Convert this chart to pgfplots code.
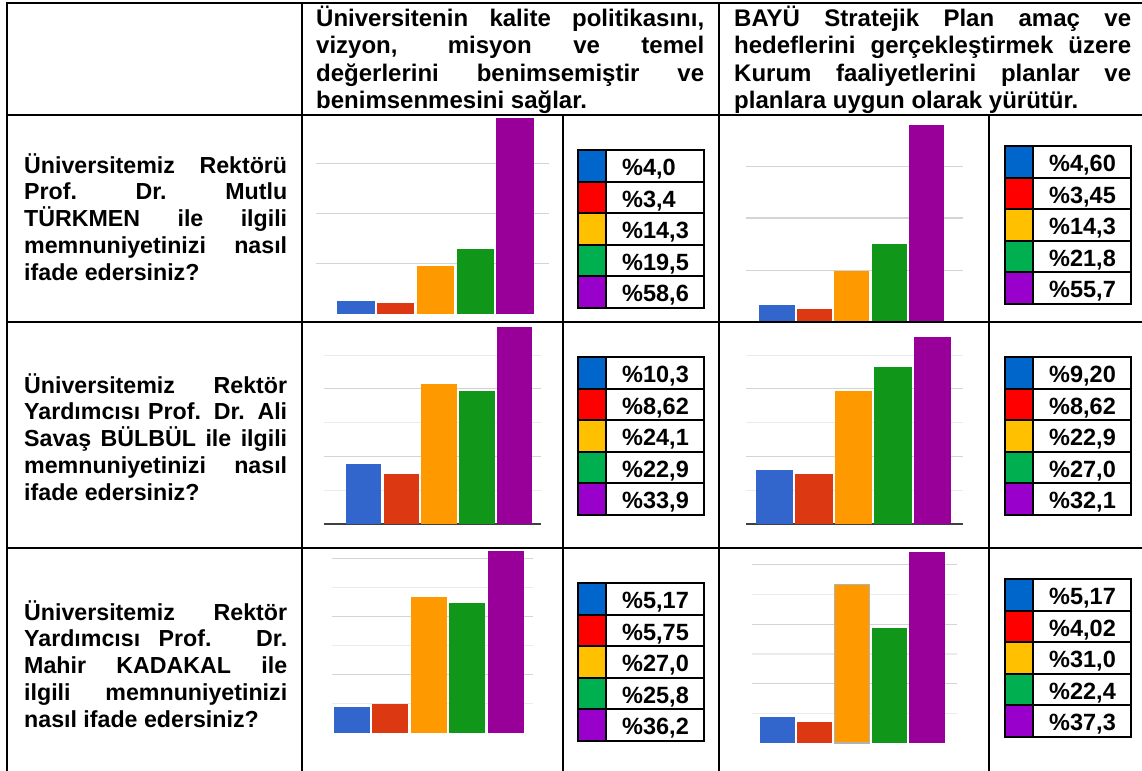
\documentclass[border=0pt]{standalone}
\usepackage{fontspec}
\setmainfont{Liberation Sans}
\usepackage{pgfplots}
\pgfplotsset{compat=1.18}

% bar colours (chart) and key colours (small tables)
\definecolor{gblue}{HTML}{3366CC}
\definecolor{gred}{HTML}{DC3912}
\definecolor{gorange}{HTML}{FF9900}
\definecolor{ggreen}{HTML}{109618}
\definecolor{gpurple}{HTML}{990099}
\definecolor{kblue}{HTML}{0066CC}
\definecolor{kred}{HTML}{FF0000}
\definecolor{kyellow}{HTML}{FFC000}
\definecolor{kgreen}{HTML}{00B050}
\definecolor{kpurple}{HTML}{9900CC}

\pgfplotsset{
  cellchart/.style={
    scale only axis, anchor=south west,
    ybar, bar shift=0pt, bar width=0.94,
    ymin=0, axis line style={draw=none},
    major tick length=0pt, minor tick length=0pt,
    xtick=\empty, yticklabels={}, extra y tick labels={},
    ymajorgrids, yminorgrids,
    major grid style={color=black!17, line width=1.2bp},
    minor grid style={color=black!8, line width=1.2bp},
    clip=false,
  },
  baseline dark/.style={
    extra y ticks={0},
    extra y tick style={grid=major, major grid style={color=black!75, line width=1.6bp}},
  },
}

\newcommand{\hfont}{\fontsize{24bp}{27.5bp}\selectfont\bfseries}
\newcommand{\lfont}{\fontsize{23.2bp}{26.8bp}\selectfont\bfseries}
\newcommand{\kfont}{\fontsize{23.5bp}{27bp}\selectfont\bfseries}

% justified line: x, baseline, width, text
\newcommand{\jline}[4]{\node[anchor=base west,inner sep=0pt] at (#1,#2) {\makebox[#3bp][s]{#4}};}
\newcommand{\lline}[3]{\node[anchor=base west,inner sep=0pt] at (#1,#2) {#3};}

% key table: x, y (top left), five labels
\newcommand{\keybox}[7]{%
  \begin{scope}[shift={(#1bp,-#2bp)},x=1bp,y=-1bp]
    \fill[kblue] (0,0) rectangle (28,31.6);
    \fill[kred] (0,31.6) rectangle (28,63.2);
    \fill[kyellow] (0,63.2) rectangle (28,94.8);
    \fill[kgreen] (0,94.8) rectangle (28,126.4);
    \fill[kpurple] (0,126.4) rectangle (28,158);
    \foreach \r in {31.6,63.2,94.8,126.4} \draw[line width=2bp] (0,\r) -- (126,\r);
    \draw[line width=2bp] (28,0) -- (28,158);
    \draw[line width=2.4bp] (0,0) rectangle (126,158);
    \begin{scope}[every node/.style={font=\kfont}]
      \lline{44}{25.5}{#3}
      \lline{44}{57.1}{#4}
      \lline{44}{88.7}{#5}
      \lline{44}{120.3}{#6}
      \lline{44}{151.9}{#7}
    \end{scope}
  \end{scope}}

\begin{document}
\begin{tikzpicture}
\useasboundingbox (0,0) rectangle (1142bp,-771bp);

% row 1
\begin{axis}[cellchart, at={(316bp,-314bp)}, width=233bp, height=199bp,
  xmin=-1.006, xmax=4.855, ymax=59.4, ytick={15,30,45}, minor ytick={}]
\addplot[fill=gblue,draw=none] coordinates {(0,4.0)};
\addplot[fill=gred,draw=none] coordinates {(1,3.4)};
\addplot[fill=gorange,draw=none] coordinates {(2,14.3)};
\addplot[fill=ggreen,draw=none] coordinates {(3,19.5)};
\addplot[fill=gpurple,draw=none] coordinates {(4,58.6)};
\end{axis}
\begin{axis}[cellchart, at={(746bp,-321bp)}, width=217bp, height=206bp,
  xmin=-0.83, xmax=4.97, ymax=58.4, ytick={14.4,29.2,43.9}, minor ytick={}]
\addplot[fill=gblue,draw=none] coordinates {(0,4.60)};
\addplot[fill=gred,draw=none] coordinates {(1,3.45)};
\addplot[fill=gorange,draw=none] coordinates {(2,14.3)};
\addplot[fill=ggreen,draw=none] coordinates {(3,21.8)};
\addplot[fill=gpurple,draw=none] coordinates {(4,55.7)};
\end{axis}

% row 2
\begin{axis}[cellchart, baseline dark, at={(324bp,-524bp)}, width=217bp, height=198bp,
  xmin=-1.046, xmax=4.70, ymax=34, ytick={11.6,23.2}, minor ytick={5.8,17.4,29}]
\addplot[fill=gblue,draw=none] coordinates {(0,10.3)};
\addplot[fill=gred,draw=none] coordinates {(1,8.62)};
\addplot[fill=gorange,draw=none] coordinates {(2,24.1)};
\addplot[fill=ggreen,draw=none] coordinates {(3,22.9)};
\addplot[fill=gpurple,draw=none] coordinates {(4,33.9)};
\end{axis}
\begin{axis}[cellchart, baseline dark, at={(746bp,-524bp)}, width=217bp, height=198bp,
  xmin=-0.72, xmax=4.77, ymax=34, ytick={11.6,23.2}, minor ytick={5.8,17.4,29}]
\addplot[fill=gblue,draw=none] coordinates {(0,9.20)};
\addplot[fill=gred,draw=none] coordinates {(1,8.62)};
\addplot[fill=gorange,draw=none] coordinates {(2,22.9)};
\addplot[fill=ggreen,draw=none] coordinates {(3,27.0)};
\addplot[fill=gpurple,draw=none] coordinates {(4,32.1)};
\end{axis}

% row 3
\begin{axis}[cellchart, at={(332bp,-733bp)}, width=201bp, height=183bp,
  xmin=-0.52, xmax=4.71, ymax=36.45, ytick={11.6,23.2,34.8}, minor ytick={5.8,17.4,29}]
\addplot[fill=gblue,draw=none] coordinates {(0,5.17)};
\addplot[fill=gred,draw=none] coordinates {(1,5.75)};
\addplot[fill=gorange,draw=none] coordinates {(2,27.0)};
\addplot[fill=ggreen,draw=none] coordinates {(3,25.8)};
\addplot[fill=gpurple,draw=none] coordinates {(4,36.2)};
\end{axis}
\begin{axis}[cellchart, at={(752bp,-743bp)}, width=205bp, height=192bp,
  xmin=-0.67, xmax=4.80, ymax=37.5, ytick={11.6,23.2,34.8}, minor ytick={5.8,17.4,29}]
\addplot[fill=gblue,draw=none] coordinates {(0,5.17)};
\addplot[fill=gred,draw=none] coordinates {(1,4.02)};
\addplot[fill=gorange,draw=black!30,line width=1.5bp] coordinates {(2,31.0)};
\addplot[fill=ggreen,draw=none] coordinates {(3,22.4)};
\addplot[fill=gpurple,draw=none] coordinates {(4,37.3)};
\end{axis}

\begin{scope}[x=1bp,y=-1bp]
  % header texts
  \begin{scope}[every node/.style={font=\hfont}]
    \jline{316}{26}{388}{Üniversitenin kalite politikasını,}
    \jline{316}{53.5}{388}{vizyon, misyon ve temel}
    \jline{316}{81}{388}{değerlerini benimsemiştir ve}
    \lline{316}{108.5}{benimsenmesini sağlar.}
    \jline{734}{26}{397}{BAYÜ Stratejik Plan amaç ve}
    \jline{734}{53.5}{397}{hedeflerini gerçekleştirmek üzere}
    \jline{734}{81}{397}{Kurum faaliyetlerini planlar ve}
    \lline{734}{108.5}{planlara uygun olarak yürütür.}
  \end{scope}
  % row questions
  \begin{scope}[every node/.style={font=\lfont}]
    \jline{24}{173}{263}{Üniversitemiz Rektörü}
    \jline{24}{199.8}{263}{Prof. Dr. Mutlu}
    \jline{24}{226.6}{263}{TÜRKMEN ile ilgili}
    \jline{24}{253.4}{263}{memnuniyetinizi nasıl}
    \lline{24}{280.2}{ifade edersiniz?}
    \jline{24}{393}{263}{Üniversitemiz Rektör}
    \jline{24}{419.8}{263}{Yardımcısı Prof. Dr. Ali}
    \jline{24}{446.6}{263}{Savaş BÜLBÜL ile ilgili}
    \jline{24}{473.4}{263}{memnuniyetinizi nasıl}
    \lline{24}{500.2}{ifade edersiniz?}
    \jline{24}{620}{263}{Üniversitemiz Rektör}
    \jline{24}{646.8}{263}{Yardımcısı Prof. Dr.}
    \jline{24}{673.6}{263}{Mahir KADAKAL ile}
    \jline{24}{700.4}{263}{ilgili memnuniyetinizi}
    \lline{24}{727.2}{nasıl ifade edersiniz?}
  \end{scope}
  % table rules
  \begin{scope}[line width=2.2bp]
    \draw (6,3) -- (1142,3);
    \draw (6,115) -- (1142,115);
    \draw (6,322) -- (1142,322);
    \draw (6,548) -- (1142,548);
    \draw (7,2) -- (7,771);
    \draw (302,2) -- (302,771);
    \draw (719,2) -- (719,771);
    \draw (563,115) -- (563,771);
    \draw (989,115) -- (989,771);
  \end{scope}
\end{scope}

\keybox{578}{150}{\%4,0}{\%3,4}{\%14,3}{\%19,5}{\%58,6}
\keybox{1005}{146}{\%4,60}{\%3,45}{\%14,3}{\%21,8}{\%55,7}
\keybox{578}{357}{\%10,3}{\%8,62}{\%24,1}{\%22,9}{\%33,9}
\keybox{1005}{357}{\%9,20}{\%8,62}{\%22,9}{\%27,0}{\%32,1}
\keybox{578}{583}{\%5,17}{\%5,75}{\%27,0}{\%25,8}{\%36,2}
\keybox{1005}{579}{\%5,17}{\%4,02}{\%31,0}{\%22,4}{\%37,3}
\end{tikzpicture}
\end{document}
